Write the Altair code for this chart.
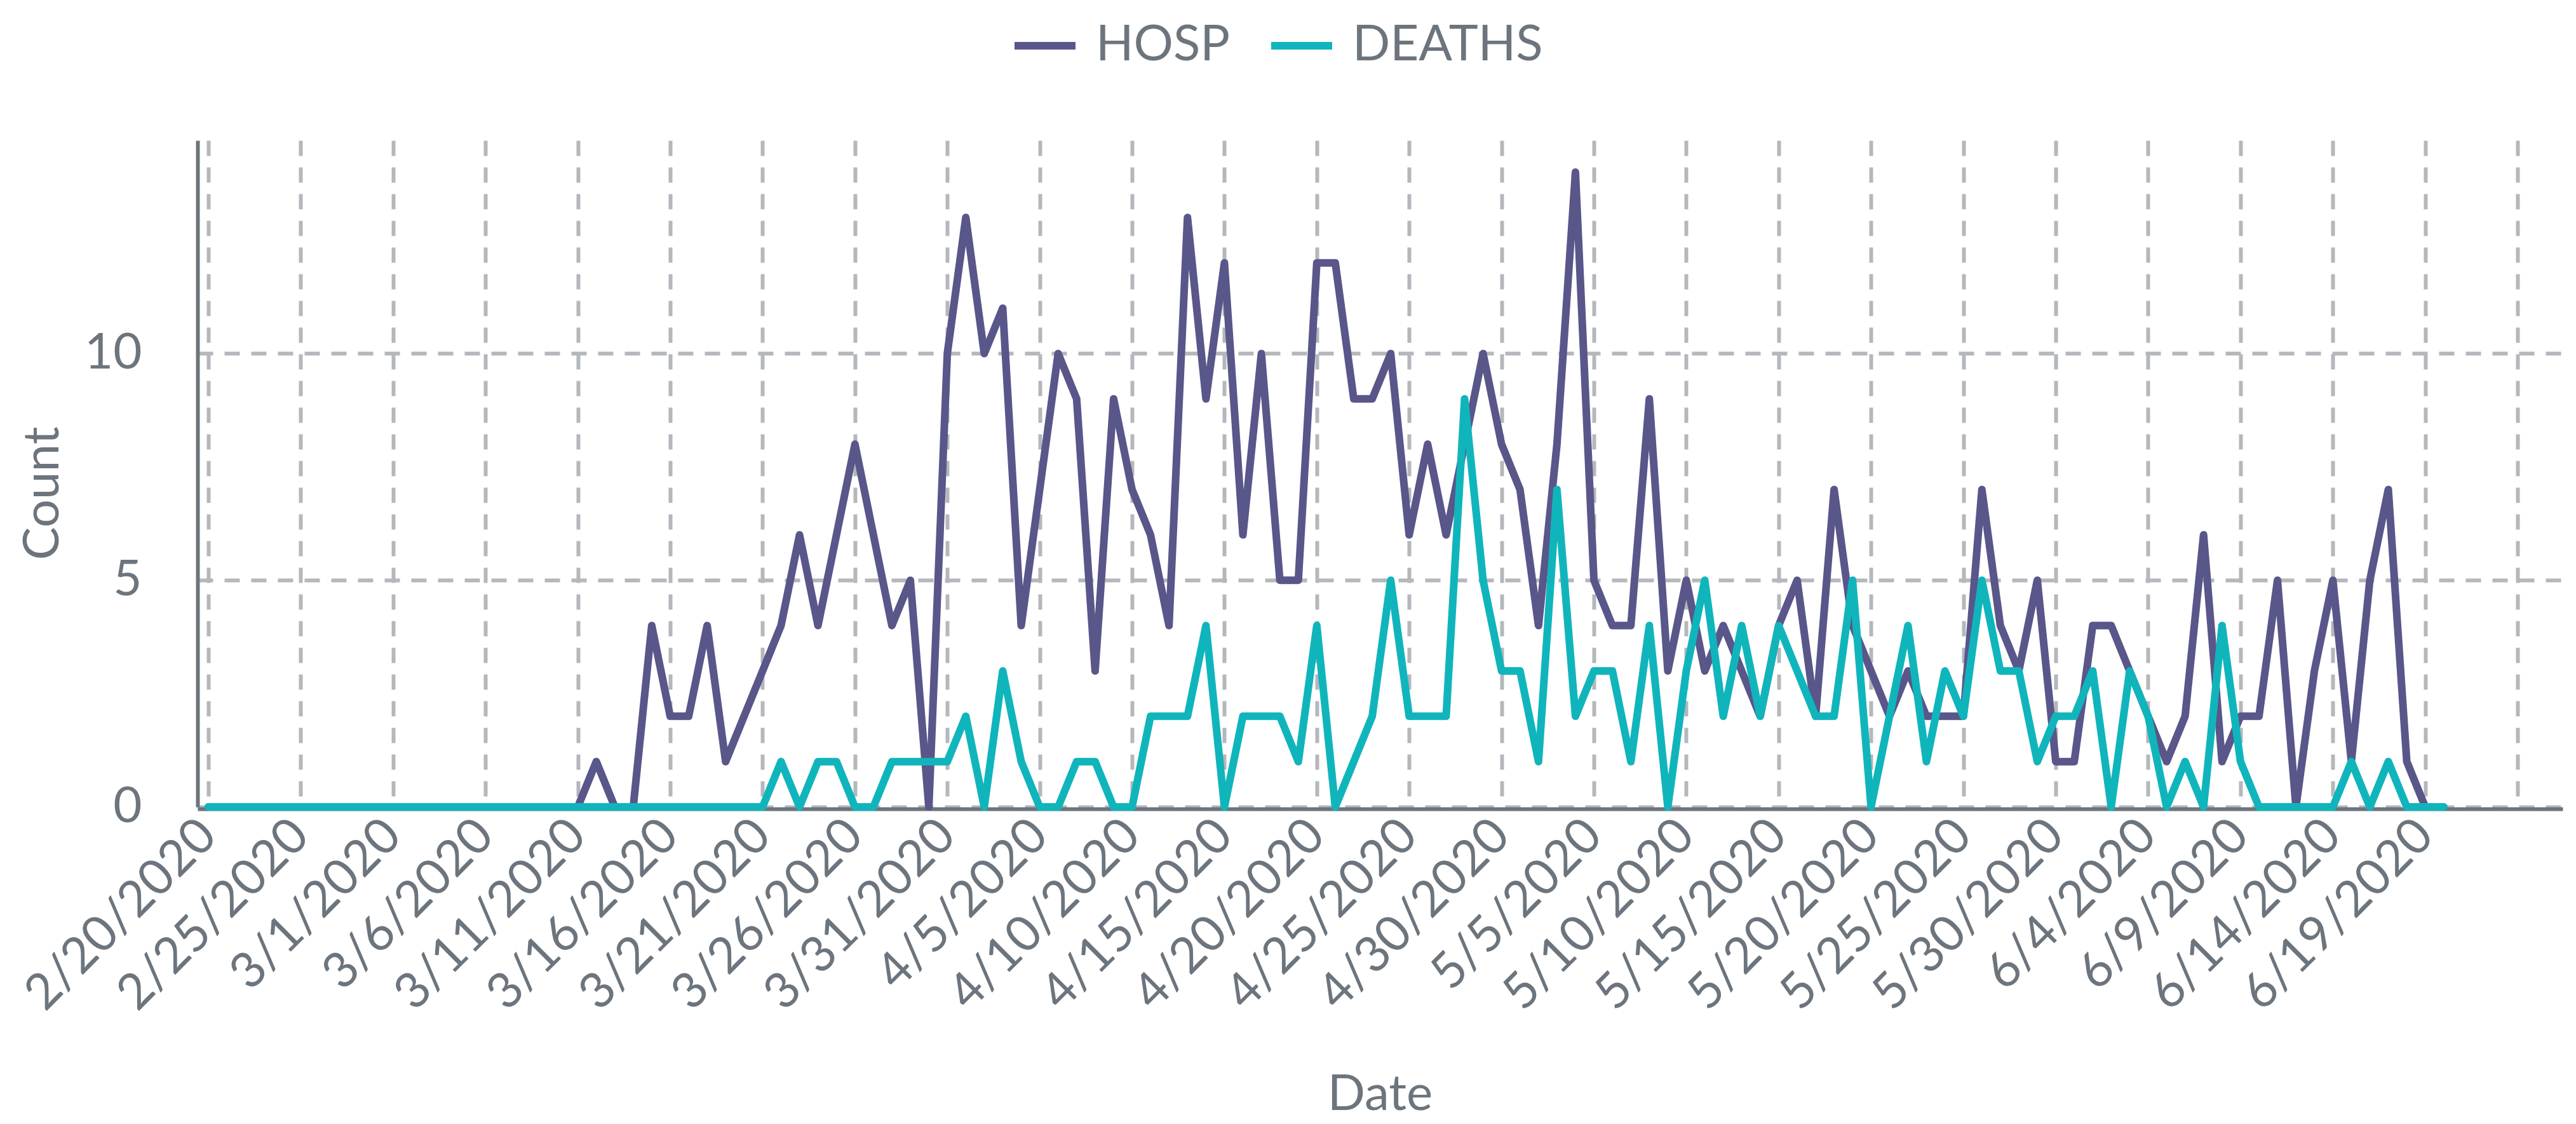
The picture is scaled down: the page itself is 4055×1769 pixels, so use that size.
import altair as alt
import pandas as pd

# ---- data (daily counts, 2/20/2020 .. 6/20/2020) ----
start_date = "2020-02-20"
end_date = "2020-06-20"

hosp = [
    0, 0, 0, 0, 0, 0, 0, 0, 0, 0,                 # 2/20 - 2/29
    0, 0, 0, 0, 0, 0, 0, 0, 0, 0, 0,              # 3/1 - 3/11
    1, 0, 0, 4, 2, 2, 4, 1, 2, 3,                 # 3/12 - 3/21
    4, 6, 4, 6, 8, 6, 4, 5, 0, 10,                # 3/22 - 3/31
    13, 10, 11, 4, 7, 10, 9, 3, 9, 7,             # 4/1 - 4/10
    6, 4, 13, 9, 12, 6, 10, 5, 5, 12,             # 4/11 - 4/20
    12, 9, 9, 10, 6, 8, 6, 8, 10, 8,              # 4/21 - 4/30
    7, 4, 8, 14, 5, 4, 4, 9, 3, 5,                # 5/1 - 5/10
    3, 4, 3, 2, 4, 5, 2, 7, 4, 3,                 # 5/11 - 5/20
    2, 3, 2, 2, 2, 7, 4, 3, 5, 1, 1,              # 5/21 - 5/31
    4, 4, 3, 2, 1, 2, 6, 1, 2, 2,                 # 6/1 - 6/10
    5, 0, 3, 5, 1, 5, 7, 1, 0, 0,                 # 6/11 - 6/20
]

deaths = [
    0, 0, 0, 0, 0, 0, 0, 0, 0, 0,                 # 2/20 - 2/29
    0, 0, 0, 0, 0, 0, 0, 0, 0, 0, 0,              # 3/1 - 3/11
    0, 0, 0, 0, 0, 0, 0, 0, 0, 0,                 # 3/12 - 3/21
    1, 0, 1, 1, 0, 0, 1, 1, 1, 1,                 # 3/22 - 3/31
    2, 0, 3, 1, 0, 0, 1, 1, 0, 0,                 # 4/1 - 4/10
    2, 2, 2, 4, 0, 2, 2, 2, 1, 4,                 # 4/11 - 4/20
    0, 1, 2, 5, 2, 2, 2, 9, 5, 3,                 # 4/21 - 4/30
    3, 1, 7, 2, 3, 3, 1, 4, 0, 3,                 # 5/1 - 5/10
    5, 2, 4, 2, 4, 3, 2, 2, 5, 0,                 # 5/11 - 5/20
    2, 4, 1, 3, 2, 5, 3, 3, 1, 2, 2,              # 5/21 - 5/31
    3, 0, 3, 2, 0, 1, 0, 4, 1, 0,                 # 6/1 - 6/10
    0, 0, 0, 0, 1, 0, 1, 0, 0, 0,                 # 6/11 - 6/20
]

series_names = ["HOSP", "DEATHS"]
series_colors = ["#59568a", "#10b5bc"]
y_ticks = [0, 5, 10]

# ---- styling ----
FONT = "Lato"
TEXT = "#6c757d"
GRID = "#b4b7bb"
FS = 78

dates = pd.date_range(start_date, end_date, freq="D").strftime("%Y-%m-%d").tolist()
df = pd.DataFrame({
    "Date": dates * 2,
    "Count": hosp + deaths,
    "series": [series_names[0]] * len(hosp) + [series_names[1]] * len(deaths),
})

tick_dates = pd.date_range("2020-02-20", "2020-06-24", freq="5D")
tick_values = [alt.DateTime(year=d.year, month=d.month, date=d.day, utc=True) for d in tick_dates]
last_ms = int(tick_dates[-1].value // 10**6)

x_scale = alt.Scale(
    type="utc",
    domain=[
        alt.DateTime(year=2020, month=2, date=19, hours=10, utc=True),
        alt.DateTime(year=2020, month=6, date=26, hours=10, minutes=30, utc=True),
    ],
)

x_enc = alt.X(
    "Date:T",
    scale=x_scale,
    title="Date",
    axis=alt.Axis(
        values=tick_values,
        labelExpr=f"datum.value >= {last_ms} ? '' : utcFormat(datum.value, '%-m/%-d/%Y')",
        labelAngle=-45,
        labelAlign="right",
        labelBaseline="middle",
        labelPadding=30,
        labelOverlap=False,
        labelBound=False,
        labelFlush=False,
        titleX=1861,
        titleY=450,
        titleAlign="center",
        titleBaseline="middle",
        offset=3,
    ),
)
y_enc = alt.Y(
    "Count:Q",
    scale=alt.Scale(domain=[0, 14.7], nice=False, zero=True),
    title="Count",
    axis=alt.Axis(
        values=y_ticks,
        labelPadding=88,
        titleX=-243,
        titleY=555,
        titleAngle=-90,
        titleAlign="center",
        titleBaseline="middle",
    ),
)
color_enc = alt.Color(
    "series:N",
    scale=alt.Scale(domain=series_names, range=series_colors),
    legend=alt.Legend(
        title=None,
        orient="none",
        direction="horizontal",
        legendX=1280,
        legendY=-203,
        symbolType="stroke",
        symbolSize=9216,
        symbolStrokeWidth=12,
        labelFontSize=FS,
        labelFont=FONT,
        labelColor=TEXT,
        labelLimit=0,
        labelOffset=26,
        columnPadding=40,
        padding=0,
    ),
)

base = alt.Chart(df).mark_line(strokeWidth=12, strokeCap="round", strokeJoin="round").encode(
    x=x_enc, y=y_enc, color=color_enc
)

chart = alt.layer(
    base.transform_filter(alt.datum.series == series_names[0]),
    base.transform_filter(alt.datum.series == series_names[1]),
).properties(
    width=3723,
    height=1049,
    padding={"left": 303, "top": 213, "right": 10, "bottom": 491},
    autosize=alt.AutoSizeParams(type="none"),
).configure_view(
    stroke=None
).configure_axis(
    labelFont=FONT,
    titleFont=FONT,
    labelFontSize=FS,
    titleFontSize=FS,
    labelColor=TEXT,
    titleColor=TEXT,
    labelLimit=0,
    titleFontWeight="normal",
    domainColor=TEXT,
    domainWidth=6,
    ticks=False,
    grid=True,
    gridColor=GRID,
    gridWidth=6,
    gridDash=[24, 18],
)

chart.save("out.html", embed_options={"renderer": "svg", "actions": False})
